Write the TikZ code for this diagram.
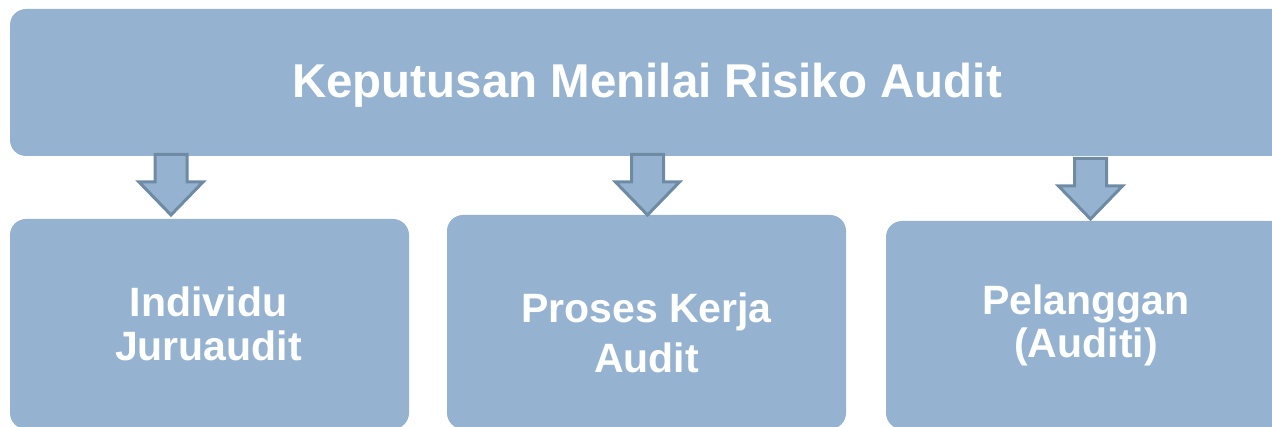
\documentclass[tikz,border=0pt]{standalone}
\usepackage{fontspec}
\setmainfont{Liberation Sans}
\definecolor{boxblue}{HTML}{95B3D0}
\definecolor{arrowedge}{HTML}{6F8BA4}
\tikzset{
  box/.style={fill=boxblue, draw=none, rounded corners=16pt, anchor=north west, inner sep=0pt, outer sep=0pt},
  titletext/.style={text=white, font=\bfseries\fontsize{47.5}{52}\selectfont, anchor=base, inner sep=0pt},
  lbl/.style={text=white, font=\bfseries\fontsize{41}{44}\selectfont, anchor=base, inner sep=0pt},
  blockarrow/.style={fill=boxblue, draw=arrowedge, line width=3pt, line join=miter},
  downarrow/.pic={\draw[blockarrow] (-16,0) -- (16,0) -- (16,27.5) -- (32,27.5) -- (0,60.5) -- (-32,27.5) -- (-16,27.5) -- cycle;}
}
\begin{document}
\begin{tikzpicture}[x=1pt,y=-1pt]
\useasboundingbox (0,0) rectangle (1272,427);
\clip (0,0) rectangle (1272,427);
% boxes
\node[box, minimum width=1290pt, minimum height=147pt] (top) at (10,9) {};
\node[box, minimum width=399pt, minimum height=210pt] (b1) at (10,219) {};
\node[box, minimum width=399pt, minimum height=214pt] (b2) at (447,215) {};
\node[box, minimum width=410pt, minimum height=208pt] (b3) at (886,221) {};
% texts
\node[titletext] (title) at (647,98) {Keputusan Menilai Risiko Audit};
\node[lbl] (t1a) at (208.5,317) {Individu};
\node[lbl] (t1b) at (208.5,361) {Juruaudit};
\node[lbl] (t2a) at (646.5,323) {Proses Kerja};
\node[lbl] (t2b) at (646.5,372.5) {Audit};
\node[lbl] (t3a) at (1086,315) {Pelanggan};
\node[lbl] (t3b) at (1086,358) {(Auditi)};
% arrows
\pic (a1) at (171,154.5) {downarrow};
\pic (a2) at (647.5,154.5) {downarrow};
\pic (a3) at (1090.5,158.5) {downarrow};
\end{tikzpicture}
\end{document}
